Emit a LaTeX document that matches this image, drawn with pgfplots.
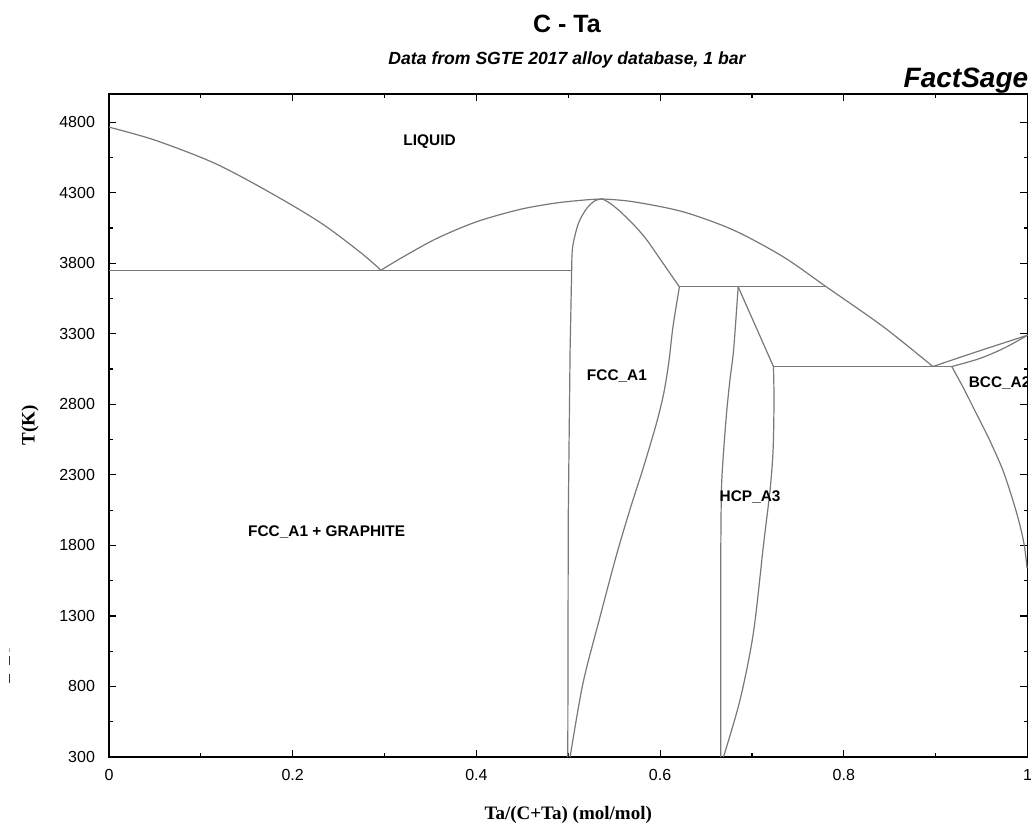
\documentclass[border=0pt]{standalone}
\usepackage{fontspec}
\setmainfont{Liberation Sans}
\newfontfamily\timesf{Liberation Serif}
\usepackage{pgfplots}
\pgfplotsset{compat=1.18}

\definecolor{phaseline}{RGB}{120,120,120}

\begin{document}
\begin{tikzpicture}
% page = 1031 x 825 px at 0.5pt/px, axis box lower left at (0,0)
\path[use as bounding box] (-54.5pt,-34pt) rectangle (461pt,378.5pt);
\begin{axis}[
  at={(0pt,0pt)}, anchor=south west,
  scale only axis,
  width=459.25pt, height=331.5pt,
  xmin=0, xmax=1, ymin=300, ymax=5000,
  xtick={0,0.2,0.4,0.6,0.8,1},
  xticklabels={0,0.2,0.4,0.6,0.8,1},
  ytick={300,800,1300,1800,2300,2800,3300,3800,4300,4800},
  yticklabels={300,800,1300,1800,2300,2800,3300,3800,4300,4800},
  minor x tick num=1, minor y tick num=1,
  tick align=inside,
  major tick length=3.7pt, minor tick length=1.8pt,
  axis line style={line width=0.8pt},
  every tick/.style={black, line width=0.6pt},
  /pgf/number format/assume math mode=true,
  tick label style={font=\fontsize{8}{9.5}\selectfont},
  xticklabel style={yshift=-2.5pt},
  yticklabel style={xshift=-3.5pt},
  xlabel={Ta/(C+Ta) (mol/mol)},
  ylabel={T(K)},
  every axis x label/.style={at={(axis description cs:0.5,0)}, yshift=-29pt, anchor=center,
    font=\timesf\bfseries\fontsize{9.5}{11}\selectfont},
  every axis y label/.style={at={(axis description cs:0,0.5)}, xshift=-39.5pt, anchor=center, rotate=90,
    font=\timesf\bfseries\fontsize{9.5}{11}\selectfont},
  pl/.style={color=phaseline, line width=0.6pt, mark=none, solid},
  clip=true,
]
  % graphite liquidus
  \addplot[pl, smooth] coordinates {(0,4765)(0.050,4673)(0.1154,4508)(0.1771,4295)
    (0.2316,4082)(0.2751,3870)(0.296,3751)};
  % eutectic
  \addplot[pl] coordinates {(0,3751)(0.5037,3751)};
  % main liquidus
  \addplot[pl, smooth] coordinates {(0.296,3751)(0.3204,3846)(0.3568,3976)(0.400,4094)
    (0.4475,4182)(0.4874,4228)(0.5237,4252)(0.537,4256)(0.571,4236)(0.625,4165)
    (0.680,4035)(0.734,3846)(0.781,3633)(0.843,3350)(0.897,3068)};
  % FCC left boundary
  \addplot[pl] coordinates {(0.4995,300)(0.5000,2000)(0.5020,3180)(0.5037,3751)};
  \addplot[pl, smooth] coordinates {(0.5037,3751)(0.5048,3917)(0.511,4082)(0.520,4188)
    (0.529,4243)(0.537,4256)};
  % FCC right boundary, upper
  \addplot[pl, smooth] coordinates {(0.537,4256)(0.545,4228)(0.556,4170)(0.571,4075)
    (0.585,3970)(0.600,3830)(0.621,3633)};
  % FCC right boundary, lower
  \addplot[pl, smooth, tension=0.5] coordinates {(0.621,3633)(0.614,3350)(0.6095,3100)(0.604,2880)
    (0.596,2665)(0.582,2357)(0.567,2051)(0.552,1720)(0.5346,1294)(0.516,822)(0.502,300)};
  % peritectic
  \addplot[pl] coordinates {(0.621,3633)(0.781,3633)};
  % HCP left boundary
  \addplot[pl, smooth, tension=0.4] coordinates {(0.685,3633)(0.680,3184)(0.676,2972)(0.672,2712)
    (0.667,2240)(0.666,1625)(0.666,300)};
  % HCP upper right
  \addplot[pl] coordinates {(0.685,3633)(0.7234,3068)};
  % HCP right boundary
  \addplot[pl, smooth, tension=0.5] coordinates {(0.7234,3068)(0.724,2830)(0.723,2476)(0.7197,2192)
    (0.7125,1800)(0.7015,1177)(0.687,704)(0.669,300)};
  % eutectic HCP + BCC
  \addplot[pl] coordinates {(0.7234,3068)(0.9175,3068)};
  % BCC liquidus and solidus
  \addplot[pl, smooth] coordinates {(0.897,3068)(0.948,3180)(1,3290)};
  \addplot[pl, smooth] coordinates {(0.9175,3068)(0.948,3125)(0.975,3200)(1,3290)};
  % BCC solvus
  \addplot[pl, smooth] coordinates {(0.9175,3068)(0.9296,2924)(0.9442,2736)(0.9587,2547)
    (0.9731,2334)(0.984,2121)(0.9915,1950)(0.9965,1800)(0.9995,1640)};

  \begin{scope}[every node/.style={font=\bfseries\fontsize{7.7}{9}\selectfont, text=black}]
    \node at (axis cs:0.349,4659) {LIQUID};
    \node at (axis cs:0.553,2999) {FCC\_A1};
    \node at (axis cs:0.698,2145) {HCP\_A3};
    \node at (axis cs:0.237,1895) {FCC\_A1 + GRAPHITE};
    \node[anchor=west, inner sep=0pt] at (axis cs:0.9356,2948) {BCC\_A2};
  \end{scope}
\end{axis}
\node[anchor=base, font=\bfseries\fontsize{12.5}{14}\selectfont] at (229pt,362.2pt) {C - Ta};
\node[anchor=base, font=\bfseries\itshape\fontsize{8.8}{10}\selectfont] at (229pt,346pt)
  {Data from SGTE 2017 alloy database, 1 bar};
\node[anchor=base east, inner sep=0pt, font=\bfseries\itshape\fontsize{14}{16}\selectfont] at (459.8pt,334.5pt) {FactSage};
\draw[black!35, line width=0.8pt] (-49.8pt,52.5pt) -- (-49.8pt,54.5pt);
\draw[black!80, line width=0.8pt] (-49.8pt,46pt) -- (-49.8pt,50.5pt);
\draw[black!80, line width=0.8pt] (-49.8pt,37pt) -- (-49.8pt,41.5pt);
\end{tikzpicture}
\end{document}
